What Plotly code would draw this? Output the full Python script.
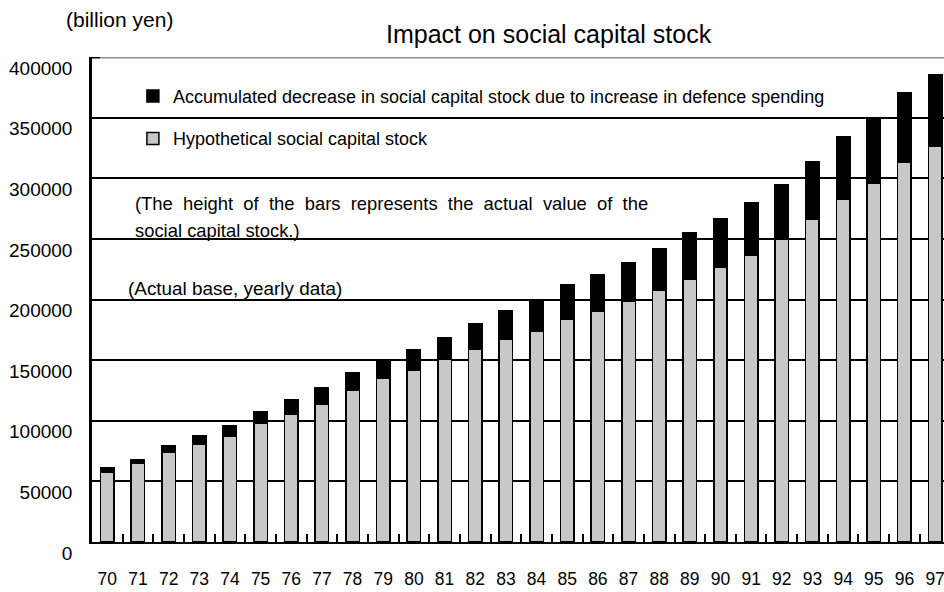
import plotly.graph_objects as go

# Fiscal years (19xx) on the category axis
years = ["70", "71", "72", "73", "74", "75", "76", "77", "78", "79",
         "80", "81", "82", "83", "84", "85", "86", "87", "88", "89",
         "90", "91", "92", "93", "94", "95", "96", "97"]

# Hypothetical social capital stock (billion yen)
hypothetical = [57300, 65200, 73800, 80400, 87200, 98200, 105100, 113400,
                124900, 134800, 141700, 151000, 159300, 167300, 174100,
                183800, 190400, 198900, 207500, 217000, 226900, 236800,
                250000, 266500, 283000, 296200, 313100, 326500]

# Accumulated decrease due to increased defence spending (billion yen)
decrease = [4100, 2800, 5800, 7400, 8900, 9400, 12400, 14000, 14300, 14100,
            17100, 17700, 20900, 23100, 24800, 28000, 29700, 31100, 34000,
            37700, 39400, 42700, 44300, 47400, 51200, 52600, 57400, 59200]

y_ticks = [0, 50000, 100000, 150000, 200000, 250000, 300000, 350000, 400000]

FONT = "Liberation Sans, Arial, sans-serif"

fig = go.Figure()
fig.add_trace(go.Bar(
    x=years, y=hypothetical, name="Hypothetical social capital stock",
    marker=dict(color="#c8c8c8", line=dict(color="black", width=1.5)),
    legendgroup="b", legendrank=2,
))
fig.add_trace(go.Bar(
    x=years, y=decrease,
    name="Accumulated decrease in social capital stock due to increase in defence spending",
    marker=dict(color="black", line=dict(color="black", width=1.5)),
    legendgroup="a", legendrank=1,
))

fig.update_layout(
    width=944, height=592,
    margin=dict(l=92, r=0, t=57, b=50),
    barmode="stack", bargap=0.56,
    plot_bgcolor="white", paper_bgcolor="white",
    font=dict(family=FONT, color="black"),
    showlegend=True,
    legend=dict(x=0.048, y=0.957, xanchor="left", yanchor="top",
                font=dict(size=18, family=FONT), bgcolor="rgba(0,0,0,0)",
                traceorder="grouped", tracegroupgap=16, itemwidth=30),
    xaxis=dict(
        type="category", range=[-0.5, 27.29],
        showline=True, linecolor="black", linewidth=2,
        ticks="inside", tickson="boundaries", ticklen=8, tickwidth=2,
        tickcolor="black", showgrid=False,
        tickfont=dict(size=17.5, family=FONT), ticklabelstandoff=20,
    ),
    yaxis=dict(
        range=[0, 400000], tickvals=y_ticks,
        ticktext=[str(v) for v in y_ticks],
        showline=True, linecolor="black", linewidth=2.5,
        showgrid=True, gridcolor="black", gridwidth=2, zeroline=False,
        ticks="", tickfont=dict(size=19, family=FONT),
        ticklabelstandoff=13, ticklabelshift=11,
    ),
    shapes=[
        dict(type="line", xref="paper", yref="y", x0=0.0094, x1=1,
             y0=400000, y1=400000, line=dict(color="#8c8c8c", width=3)),
        dict(type="line", xref="paper", yref="y", x0=0, x1=0.0094,
             y0=400000, y1=400000, line=dict(color="black", width=3)),
    ],
    annotations=[
        dict(text="Impact on social capital stock", xref="paper", yref="paper",
             x=0.5358, y=1.0474, xanchor="center", yanchor="middle",
             showarrow=False, font=dict(size=25, family=FONT)),
        dict(text="(billion yen)", xref="paper", yref="paper",
             x=-0.0329, y=1.0783, xanchor="left", yanchor="middle",
             showarrow=False, font=dict(size=21, family=FONT)),
        dict(text="(The&nbsp; height&nbsp; of&nbsp; the&nbsp; bars&nbsp; represents&nbsp; the&nbsp; actual&nbsp; value&nbsp; of&nbsp; the",
             xref="paper", yref="paper", x=0.0481, y=0.6988,
             xanchor="left", yanchor="middle", showarrow=False,
             font=dict(size=18.4, family=FONT)),
        dict(text="social capital stock.)", xref="paper", yref="paper",
             x=0.0481, y=0.6431, xanchor="left", yanchor="middle",
             showarrow=False, font=dict(size=18.4, family=FONT)),
        dict(text="(Actual base, yearly data)", xref="paper", yref="paper",
             x=0.0400, y=0.5234, xanchor="left", yanchor="middle",
             showarrow=False, font=dict(size=18.9, family=FONT)),
    ],
)

fig.write_html("out.html")
